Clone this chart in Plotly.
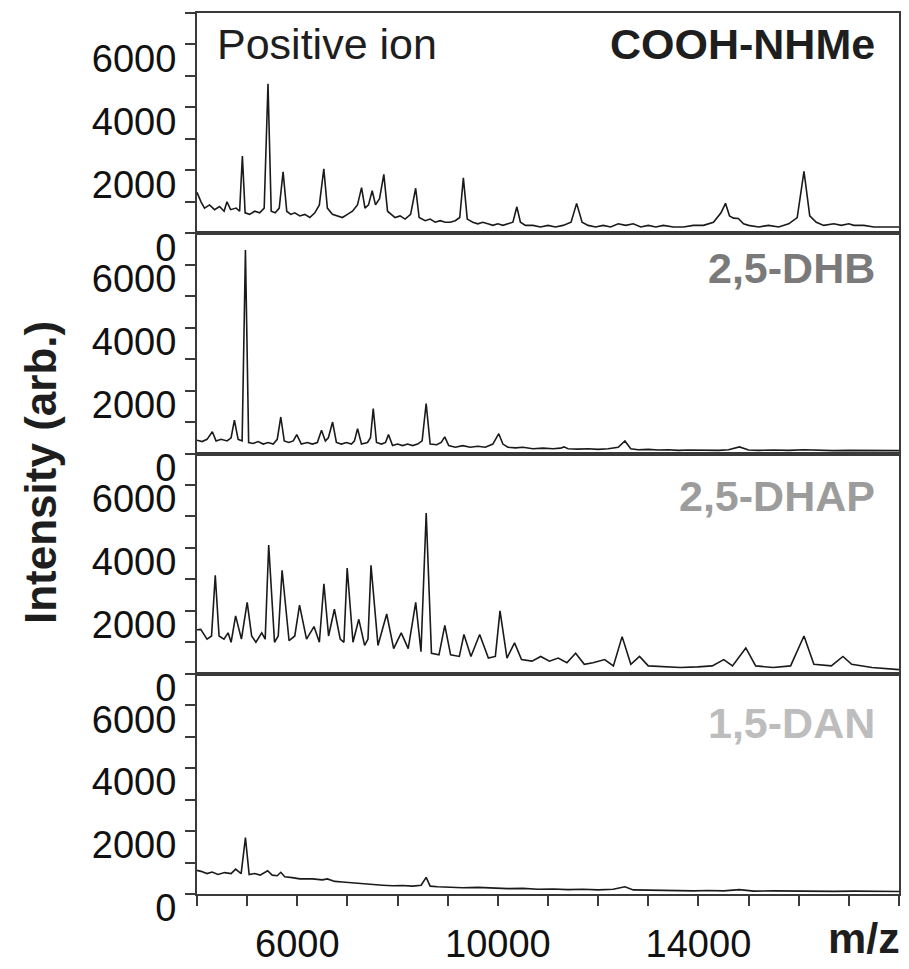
import plotly.graph_objects as go
from plotly.subplots import make_subplots

# ---------------- data ----------------
mz_ticks = [4000, 5000, 6000, 7000, 8000, 9000, 10000, 11000, 12000, 13000,
            14000, 15000, 16000, 17000, 18000]
mz_ticktext = ["", "", "6000", "", "", "", "10000", "", "", "",
               "14000", "", "", "", ""]
int_ticks = [0, 1000, 2000, 3000, 4000, 5000, 6000, 7000]
int_ticktext = ["0", "", "2000", "", "4000", "", "6000", ""]

panel_labels = ["COOH-NHMe", "2,5-DHB", "2,5-DHAP", "1,5-DAN"]

cooh_mz = [4000, 4080, 4150, 4250, 4350, 4450, 4540, 4598, 4670, 4780, 4850, 4905, 4960,
           5050, 5150, 5250, 5340, 5416, 5480, 5560, 5640, 5717, 5790, 5870, 5950, 6050,
           6150, 6250, 6350, 6440, 6529, 6600, 6700, 6800, 6900, 7000, 7100, 7200, 7282,
           7350, 7420, 7494, 7560, 7640, 7726, 7800, 7880, 7950, 8050, 8150, 8260, 8361,
           8430, 8550, 8650, 8750, 8850, 8950, 9050, 9150, 9240, 9312, 9390, 9500, 9600,
           9700, 9800, 9900, 10000, 10100, 10200, 10300, 10379, 10450, 10550, 10700,
           10850, 11000, 11150, 11300, 11460, 11571, 11680, 11800, 11950, 12100, 12250,
           12400, 12550, 12700, 12850, 13000, 13150, 13300, 13500, 13700, 13900, 14100,
           14300, 14450, 14540, 14620, 14700, 14795, 14900, 15000, 15200, 15400, 15600,
           15800, 15970, 16105, 16220, 16350, 16500, 16700, 16850, 16998, 17100, 17300,
           17500, 17700, 17850, 18000]
cooh_int = [1300, 1000, 800, 900, 750, 850, 700, 1000, 750, 800, 700, 2450, 650,
            600, 700, 650, 800, 4750, 700, 650, 800, 1950, 700, 600, 650, 550,
            600, 500, 650, 900, 2050, 800, 600, 550, 500, 600, 700, 900, 1450,
            800, 900, 1350, 900, 1100, 1870, 700, 600, 500, 550, 450, 600, 1430,
            500, 400, 450, 350, 400, 350, 350, 400, 500, 1760, 450, 350, 300,
            350, 300, 250, 300, 250, 300, 350, 840, 350, 250, 250,
            200, 250, 200, 250, 350, 950, 350, 250, 200, 250, 200,
            300, 250, 300, 200, 250, 200, 250, 200, 200, 250, 250,
            350, 650, 950, 550, 480, 470, 300, 250, 200, 250, 200,
            300, 500, 1970, 550, 350, 250, 300, 250, 300, 250, 250,
            200, 200, 220, 200]

dhb_mz = [4000, 4100, 4200, 4306, 4380, 4480, 4600, 4680, 4746, 4820, 4900, 4966, 5030,
          5120, 5220, 5320, 5420, 5520, 5600, 5671, 5740, 5830, 5920, 5990, 6080, 6200,
          6300, 6400, 6483, 6560, 6620, 6704, 6780, 6880, 6980, 7080, 7140, 7202, 7280,
          7400, 7460, 7515, 7580, 7680, 7760, 7818, 7900, 8000, 8100, 8200, 8300, 8400,
          8490, 8570, 8650, 8780, 8870, 8941, 9020, 9150, 9300, 9450, 9600, 9750, 9900,
          10018, 10100, 10200, 10350, 10500, 10700, 10900, 11100, 11250, 11318, 11400,
          11600, 11800, 12000, 12200, 12400, 12534, 12650, 12800, 13000, 13200, 13400,
          13600, 13800, 14000, 14200, 14400, 14600, 14818, 15000, 15200, 15500, 15800,
          16100, 16400, 16700, 17000, 17300, 17600, 18000]
dhb_int = [420, 380, 450, 690, 400, 450, 400, 500, 1060, 450, 400, 6470, 350,
           320, 380, 300, 350, 300, 450, 1160, 400, 350, 400, 600, 300, 350,
           300, 350, 740, 400, 500, 1000, 350, 300, 350, 300, 400, 790, 300,
           350, 500, 1430, 350, 300, 350, 600, 250, 300, 250, 300, 250, 300,
           400, 1590, 300, 280, 350, 530, 250, 200, 250, 200, 230, 200, 300,
           630, 300, 200, 180, 200, 150, 170, 150, 170, 210, 150,
           140, 150, 130, 150, 200, 400, 150, 120, 130, 110, 120,
           100, 110, 100, 110, 100, 120, 210, 110, 100, 110, 100,
           120, 100, 90, 100, 90, 100, 90]

dhap_mz = [4000, 4074, 4200, 4290, 4364, 4440, 4538, 4620, 4680, 4770, 4886, 5001, 5090,
           5175, 5291, 5360, 5430, 5546, 5620, 5697, 5836, 5950, 6045, 6184, 6334, 6440,
           6531, 6624, 6740, 6856, 6930, 6995, 7111, 7227, 7343, 7410, 7470, 7609, 7783,
           7922, 8073, 8212, 8362, 8467, 8571, 8676, 8826, 8942, 9058, 9232, 9324, 9463,
           9637, 9811, 9950, 10043, 10182, 10333, 10472, 10681, 10855, 11029, 11203,
           11377, 11551, 11724, 11898, 12130, 12304, 12478, 12652, 12826, 13000, 13290,
           13637, 13985, 14275, 14505, 14679, 14945, 15142, 15490, 15838, 16105, 16302,
           16650, 16882, 17056, 17462, 18000]
dhap_int = [1400, 1410, 1100, 1200, 3130, 1200, 1100, 1300, 1000, 1840, 1100, 2270, 1200,
            1000, 1300, 1100, 4090, 1000, 1200, 3290, 1050, 1200, 2180, 1100, 1500, 1000,
            2860, 1200, 2050, 1100, 1000, 3360, 1000, 1730, 900, 1100, 3450, 900, 1900,
            800, 1300, 800, 2270, 700, 5110, 650, 600, 1540, 600, 550, 1250, 550,
            1250, 500, 550, 2000, 500, 980, 450, 400, 550, 400, 500,
            350, 650, 300, 350, 450, 250, 1180, 300, 550, 250, 220,
            200, 220, 250, 450, 250, 820, 250, 200, 250, 1200, 300,
            250, 550, 300, 200, 130]

dan_mz = [4000, 4080, 4200, 4300, 4420, 4550, 4680, 4770, 4880, 4966, 5040, 5150, 5260,
          5408, 5500, 5600, 5671, 5750, 5900, 6050, 6300, 6500, 6600, 6750, 6900, 7100,
          7300, 7500, 7700, 7900, 8100, 8300, 8470, 8570, 8650, 8800, 9000, 9300, 9600,
          9900, 10200, 10500, 10800, 11100, 11400, 11700, 12000, 12300, 12534, 12700,
          13000, 13300, 13600, 13900, 14200, 14500, 14818, 15100, 15500, 15900, 16300,
          16700, 17100, 17500, 18000]
dan_int = [750, 720, 650, 700, 620, 680, 650, 790, 650, 1790, 620, 650, 600,
           740, 600, 580, 690, 550, 520, 480, 480, 450, 480, 400, 380, 350,
           330, 300, 280, 260, 270, 250, 280, 530, 250, 230, 220, 200, 210,
           180, 170, 180, 150, 160, 140, 150, 130, 150, 230, 130,
           120, 110, 120, 100, 110, 100, 140, 90, 100, 90, 95,
           85, 90, 80, 80]

spectra = [(cooh_mz, cooh_int), (dhb_mz, dhb_int), (dhap_mz, dhap_int), (dan_mz, dan_int)]
label_colors = ["#1e1e1e", "#7a7a7a", "#9c9c9c", "#bdbdbd"]

# ---------------- figure ----------------
W, H = 909, 969
ML, MR, MT, MB = 197, 10, 13, 75
fig = make_subplots(rows=4, cols=1, shared_xaxes=True, vertical_spacing=0)

for i, (mz, inten) in enumerate(spectra):
    assert len(mz) == len(inten)
    fig.add_trace(go.Scatter(x=mz, y=inten, mode="lines",
                             line=dict(color="#1a1a1a", width=1.6),
                             hoverinfo="skip", showlegend=False),
                  row=i + 1, col=1)

FONT = "Liberation Sans, Arial, sans-serif"
frame = "#3a3a3a"
for r in range(1, 5):
    fig.update_yaxes(row=r, col=1, range=[0, 7000], tickmode="array",
                     tickvals=int_ticks, ticktext=int_ticktext,
                     ticks="outside", ticklen=10, tickwidth=1.5, tickcolor=frame,
                     showline=True, linecolor=frame, linewidth=2, mirror=True,
                     showgrid=False, zeroline=False, automargin=False,
                     tickfont=dict(size=38, color="#111", family=FONT),
                     ticklabelshift=14, ticklabelstandoff=1)
    fig.update_xaxes(row=r, col=1, range=[4000, 18000],
                     showline=True, linecolor=frame, linewidth=2, mirror=True,
                     showgrid=False, zeroline=False, automargin=False)
for r in range(1, 4):
    fig.update_xaxes(row=r, col=1, ticks="", showticklabels=False)
fig.update_xaxes(row=4, col=1, tickmode="array", tickvals=mz_ticks, ticktext=mz_ticktext,
                 ticks="outside", ticklen=10, tickwidth=1.5, tickcolor=frame,
                 showticklabels=True, tickfont=dict(size=38, color="#111", family=FONT),
                 ticklabelstandoff=5)


def px_x(px):
    return (px - ML) / (W - ML - MR)


def px_y(py):
    return (H - MB - py) / (H - MT - MB)


label_y = [44, 268, 496, 723]
annotations = []
annotations.append(dict(text="Positive ion", x=px_x(215), y=px_y(44), xref="paper", yref="paper",
                        xanchor="left", yanchor="middle", showarrow=False,
                        font=dict(size=43, color="#1e1e1e", family=FONT)))
for lab, col, yy in zip(panel_labels, label_colors, label_y):
    annotations.append(dict(text="<b>%s</b>" % lab, x=px_x(877), y=px_y(yy), xref="paper",
                            yref="paper", xanchor="right", yanchor="middle", showarrow=False,
                            font=dict(size=43, color=col, family=FONT)))
annotations.append(dict(text="<b>Intensity (arb.)</b>", x=px_x(40), y=px_y(473), xref="paper",
                        yref="paper", xanchor="center", yanchor="middle", textangle=-90,
                        showarrow=False, font=dict(size=44, color="#1e1e1e", family=FONT)))
annotations.append(dict(text="<b>m/z</b>", x=px_x(864), y=px_y(938), xref="paper",
                        yref="paper", xanchor="center", yanchor="middle", showarrow=False,
                        font=dict(size=43, color="#1e1e1e", family=FONT)))

fig.update_layout(width=W, height=H, margin=dict(l=ML, r=MR, t=MT, b=MB),
                  plot_bgcolor="white", paper_bgcolor="white",
                  font=dict(family=FONT), annotations=annotations, showlegend=False)

fig.write_html("out.html")
